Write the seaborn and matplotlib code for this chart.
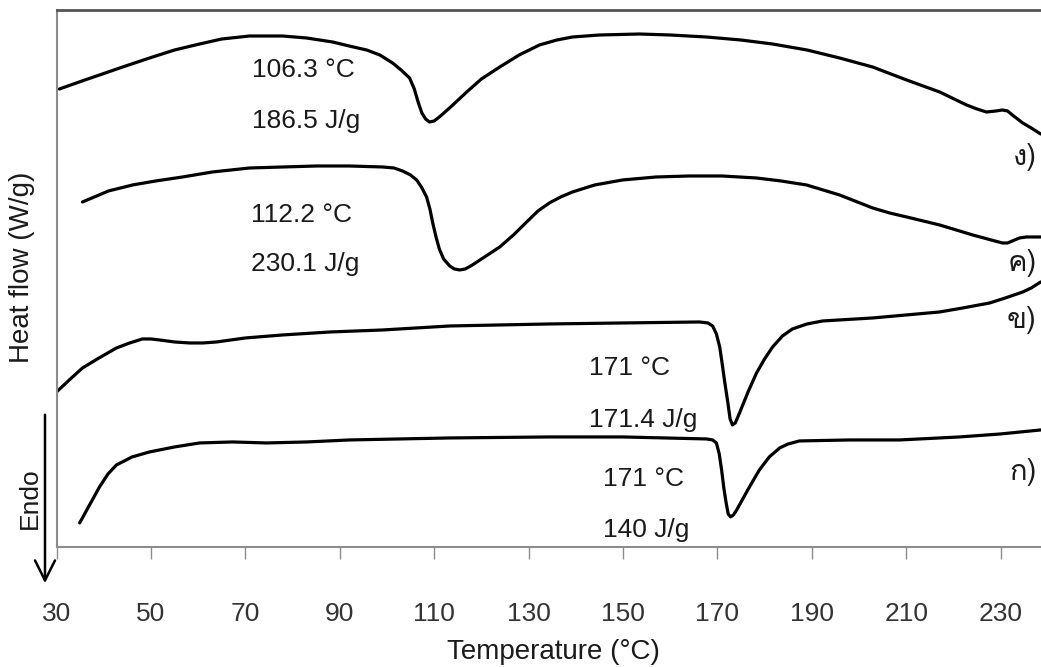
import matplotlib
matplotlib.use("Agg")
import matplotlib.pyplot as plt
from matplotlib.patches import FancyArrowPatch
from matplotlib import font_manager
from matplotlib.ft2font import FT2Font
import pandas as pd
import seaborn as sns

# DSC traces: temperature (°C) and heat flow (W/g, curves stacked with offsets)
temp_a = [34.9, 37.0, 39.1, 40.9, 42.7, 46.0, 49.7, 55.0, 60.3, 67.3, 74.5,
          83.0, 92.1, 113.3, 134.4, 150.0, 167.7, 169.0, 169.8, 170.4, 170.9,
          171.4, 171.9, 172.3, 172.8, 173.4, 174.1, 175.5, 176.8, 178.9, 181.0,
          183.2, 185.0, 187.4, 198.0, 208.6, 221.3, 230.0, 238.5]
flow_a = [0.24, 0.42, 0.60, 0.73, 0.82, 0.90, 0.95, 1.00, 1.04, 1.05, 1.04,
          1.05, 1.07, 1.09, 1.10, 1.10, 1.08, 1.07, 1.04, 0.93, 0.77,
          0.58, 0.43, 0.33, 0.30, 0.32, 0.37, 0.49, 0.60, 0.77, 0.90,
          0.99, 1.03, 1.06, 1.07, 1.07, 1.10, 1.13, 1.17]

temp_b = [30.0, 32.7, 35.5, 39.0, 42.7, 45.5, 48.2, 50.0, 51.8, 55.0, 58.2,
          61.0, 63.9, 70.0, 77.9, 88.0, 99.1, 113.3, 134.4, 150.0, 166.2,
          168.0, 169.0, 169.8, 170.5, 171.0, 171.5, 172.2, 172.7, 173.2, 173.8,
          174.7, 176.5, 178.3, 180.0, 181.7, 183.8, 185.9, 189.0, 192.3, 202.9,
          210.0, 217.1, 222.0, 227.7, 231.0, 234.7, 236.5, 238.5]
flow_b = [1.55, 1.67, 1.79, 1.89, 1.99, 2.04, 2.08, 2.08, 2.07, 2.05, 2.04,
          2.04, 2.05, 2.09, 2.12, 2.15, 2.17, 2.21, 2.23, 2.24, 2.25,
          2.24, 2.21, 2.13, 2.00, 1.84, 1.67, 1.45, 1.28, 1.22, 1.24,
          1.34, 1.55, 1.74, 1.88, 2.00, 2.11, 2.18, 2.23, 2.26, 2.29,
          2.32, 2.35, 2.39, 2.44, 2.49, 2.55, 2.59, 2.65]

temp_c = [35.5, 38.0, 41.0, 46.1, 51.0, 56.7, 63.0, 70.9, 78.0, 85.1, 92.0,
          99.1, 101.5, 103.3, 105.0, 106.3, 107.3, 108.4, 109.1, 109.7, 110.4,
          111.1, 112.0, 113.3, 114.3, 115.4, 116.6, 118.1, 121.0, 123.9, 126.8,
          129.6, 132.0, 134.4, 136.8, 139.3, 144.0, 149.9, 157.0, 164.1, 171.0,
          178.3, 183.5, 188.9, 192.4, 195.9, 202.9, 206.5, 210.1, 217.1, 224.1,
          228.0, 230.4, 231.5, 232.5, 234.0, 235.5, 238.5]
flow_c = [3.45, 3.50, 3.56, 3.62, 3.66, 3.70, 3.75, 3.79, 3.80, 3.81, 3.81,
          3.80, 3.79, 3.76, 3.72, 3.67, 3.60, 3.50, 3.38, 3.24, 3.10,
          2.98, 2.88, 2.81, 2.78, 2.77, 2.78, 2.82, 2.91, 3.00, 3.12,
          3.25, 3.36, 3.44, 3.50, 3.55, 3.62, 3.67, 3.70, 3.71, 3.71,
          3.69, 3.66, 3.62, 3.57, 3.52, 3.39, 3.34, 3.30, 3.22, 3.12,
          3.07, 3.04, 3.04, 3.06, 3.09, 3.10, 3.10]

temp_d = [30.6, 33.0, 36.0, 39.1, 44.0, 49.7, 55.0, 60.3, 65.0, 70.9, 77.9,
          83.0, 88.5, 92.0, 95.7, 98.5, 101.2, 103.0, 104.8, 105.8, 106.6,
          107.4, 108.2, 109.0, 110.0, 111.1, 113.5, 116.9, 120.0, 123.9, 128.0,
          132.3, 136.0, 139.3, 145.0, 153.5, 160.0, 167.7, 175.0, 181.7, 189.0,
          195.9, 202.9, 210.1, 217.1, 222.8, 225.0, 227.0, 229.0, 230.4, 231.5,
          232.5, 234.7, 236.5, 238.5]
flow_d = [4.58, 4.62, 4.67, 4.72, 4.80, 4.89, 4.97, 5.03, 5.08, 5.11, 5.11,
          5.09, 5.05, 5.01, 4.97, 4.92, 4.84, 4.77, 4.69, 4.58, 4.45,
          4.34, 4.28, 4.25, 4.26, 4.30, 4.40, 4.55, 4.68, 4.80, 4.92,
          5.02, 5.07, 5.10, 5.12, 5.13, 5.12, 5.10, 5.07, 5.03, 4.97,
          4.89, 4.80, 4.67, 4.55, 4.42, 4.38, 4.35, 4.36, 4.37, 4.36,
          4.32, 4.24, 4.19, 4.13]

sample_names = ["ก)", "ข)", "ค)", "ง)"]
name_levels = [0.75, 2.27, 2.84, 3.90]

# Peak temperature / enthalpy notes: (temperature, heat flow, text)
peak_notes = [
    (71.5, 4.70, "106.3 °C"), (71.5, 4.19, "186.5 J/g"),
    (71.3, 3.25, "112.2 °C"), (71.3, 2.76, "230.1 J/g"),
    (142.9, 1.72, "171 °C"), (142.9, 1.20, "171.4 J/g"),
    (145.7, 0.61, "171 °C"), (145.7, 0.10, "140 J/g"),
]

x_ticks = [30, 50, 70, 90, 110, 130, 150, 170, 190, 210, 230]

sns.set_theme(style="white")
plt.rcParams["font.family"] = ["Liberation Sans", "DejaVu Sans"]


def thai_family():
    for entry in font_manager.fontManager.ttflist:
        try:
            if FT2Font(entry.fname).get_char_index(ord("ก")):
                return entry.name
        except Exception:
            continue
    return "DejaVu Sans"


thai = thai_family()

frames = []
for name, t, f in zip(sample_names, [temp_a, temp_b, temp_c, temp_d],
                      [flow_a, flow_b, flow_c, flow_d]):
    frames.append(pd.DataFrame({"sample": name, "temp": t, "flow": f}))
data = pd.concat(frames, ignore_index=True)

fig = plt.figure(figsize=(10.41, 6.67), dpi=100)
ax = fig.add_axes([0.0543, 0.18, 0.9522, 0.805])

for name in sample_names:
    sns.lineplot(data=data[data["sample"] == name], x="temp", y="flow",
                 ax=ax, color="black", linewidth=2.3, estimator=None,
                 sort=False, legend=False)
for line in ax.lines:
    line.set_solid_joinstyle("round")
    line.set_solid_capstyle("round")

ax.set_xlim(30, 240)
ax.set_ylim(0, 5.37)
ax.set_xticks(x_ticks)
ax.set_xticklabels([str(v) for v in x_ticks])
ax.set_yticks([])
ax.tick_params(axis="x", direction="out", length=8.5, width=1.0,
               color="#8c8c8c", pad=31, labelsize=19, labelcolor="#333333",
               bottom=True)

for side in ["left", "bottom"]:
    ax.spines[side].set_color("#8c8c8c")
    ax.spines[side].set_linewidth(1.5)
ax.spines["top"].set_color("#555555")
ax.spines["top"].set_linewidth(2.0)
ax.spines["right"].set_visible(False)

for x, y, txt in peak_notes:
    ax.text(x, y, txt, fontsize=19, color="#1a1a1a", ha="left", va="baseline")

for name, level in zip(sample_names, name_levels):
    ax.text(237.6, level, name, fontsize=21, color="#1a1a1a", ha="right",
            va="center", family=[thai, "DejaVu Sans"])

ax.set_xlabel("Temperature (°C)", fontsize=20, color="#1a1a1a")
ax.xaxis.set_label_coords(0.501, -0.172)
ax.set_ylabel("Heat flow (W/g)", fontsize=20, color="#1a1a1a")
ax.yaxis.set_label_coords(-0.022, 0.52)

fig.text(30 / 1041, 1 - 498 / 667, "Endo", rotation=90, fontsize=19,
         color="#1a1a1a", ha="center", va="center")
fig.add_artist(FancyArrowPatch((45 / 1041, 1 - 412 / 667),
                               (45 / 1041, 1 - 586 / 667),
                               transform=fig.transFigure,
                               arrowstyle="->,head_length=0.9,head_width=0.45",
                               mutation_scale=16, color="black", linewidth=1.8))

fig.savefig("out.png", dpi=100)
